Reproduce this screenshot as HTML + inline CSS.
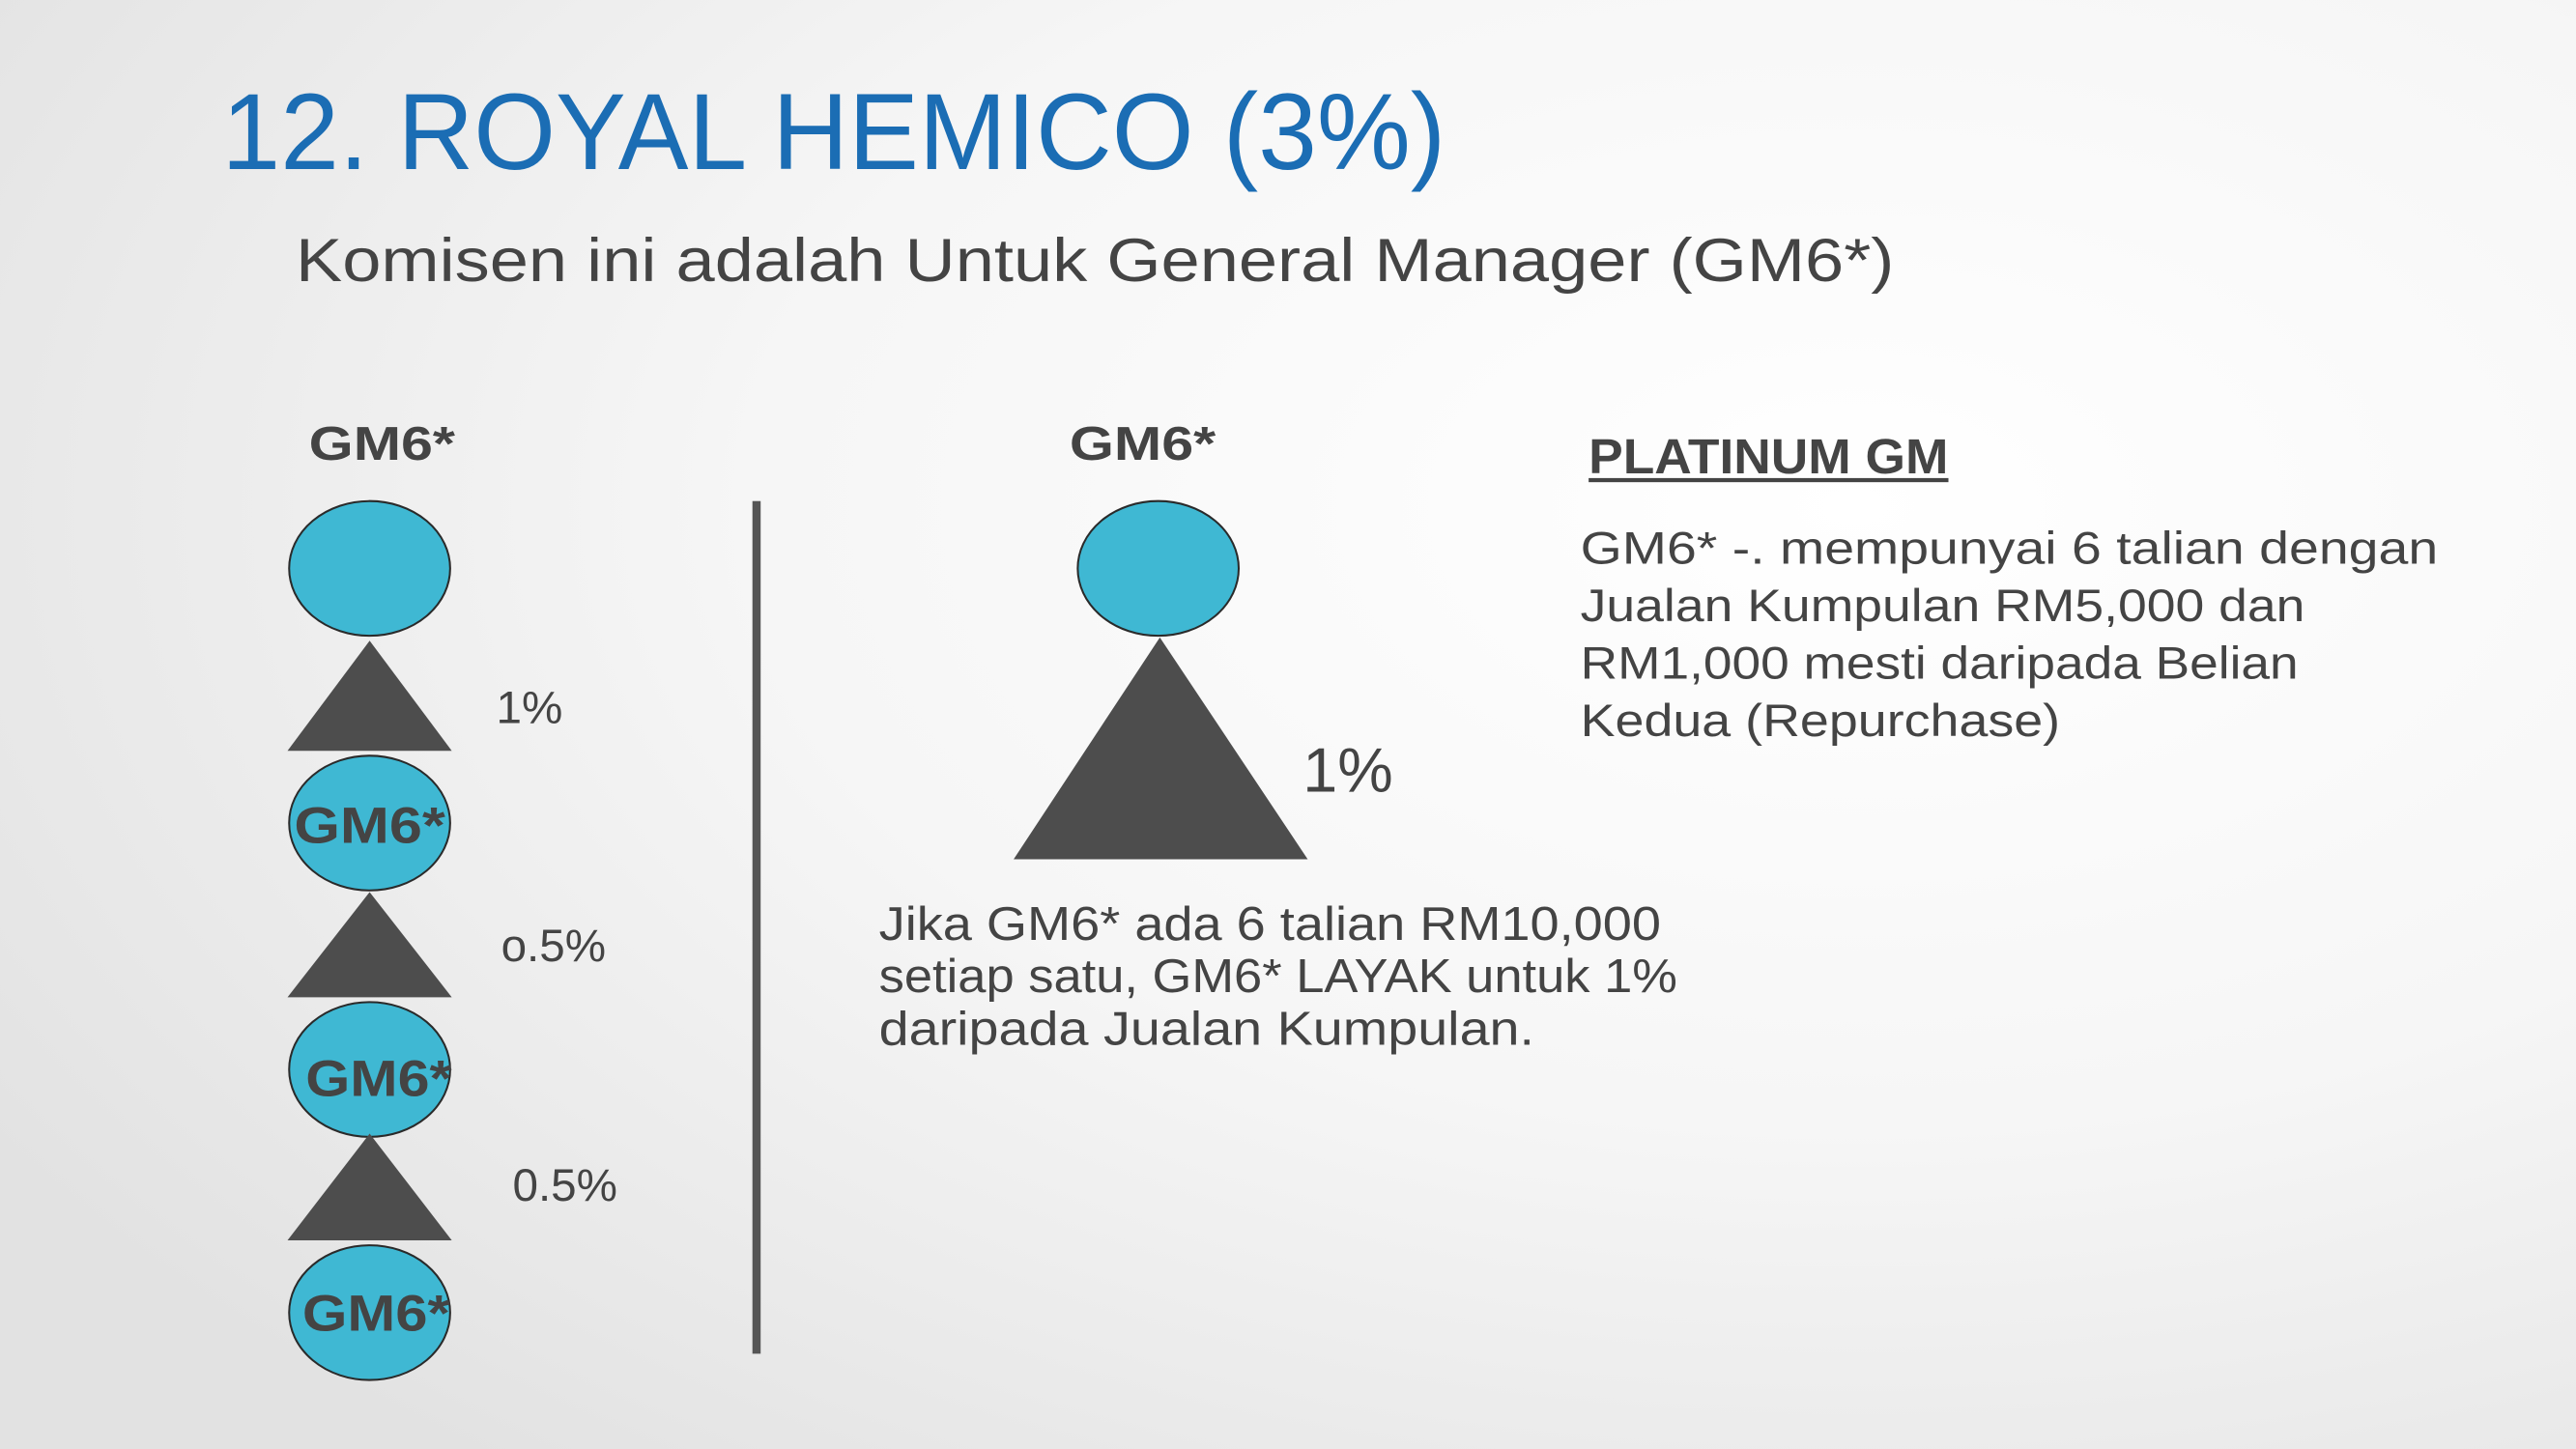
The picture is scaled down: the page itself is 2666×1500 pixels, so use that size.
<!DOCTYPE html>
<html><head><meta charset="utf-8"><style>
html,body{margin:0;padding:0;width:2666px;height:1500px;overflow:hidden}
svg{display:block}
text{font-family:"Liberation Sans",sans-serif}
</style></head><body>
<svg width="2666" height="1500" viewBox="0 0 1568 882" preserveAspectRatio="none" xmlns="http://www.w3.org/2000/svg">
<defs>
<radialGradient id="bg" cx="0.72" cy="0.35" r="0.85">
<stop offset="0" stop-color="#ffffff"/><stop offset="0.5" stop-color="#f6f6f6"/><stop offset="1" stop-color="#e2e2e2"/>
</radialGradient>
</defs>
<rect x="0" y="0" width="1568" height="882" fill="url(#bg)"/>
<text x="135" y="103" font-size="66" fill="#1b6db4" textLength="745" lengthAdjust="spacingAndGlyphs">12. ROYAL HEMICO (3%)</text>
<text x="180" y="171" font-size="37" fill="#444" textLength="973" lengthAdjust="spacingAndGlyphs">Komisen ini adalah Untuk General Manager (GM6*)</text>

<g>
<text x="188" y="280" font-size="29" font-weight="bold" fill="#444" textLength="89" lengthAdjust="spacingAndGlyphs">GM6*</text>
<ellipse cx="225" cy="346" rx="49" ry="41" fill="#3fb8d3" stroke="#2a2a2a" stroke-width="1.2"/>
<polygon points="225,390 175,457 275,457" fill="#4d4d4d"/>
<text x="302" y="440" font-size="28" fill="#444">1%</text>
<ellipse cx="225" cy="501" rx="49" ry="41" fill="#3fb8d3" stroke="#2a2a2a" stroke-width="1.2"/>
<text x="179" y="513" font-size="31" font-weight="bold" fill="#444" textLength="92" lengthAdjust="spacingAndGlyphs">GM6*</text>
<polygon points="225,543 175,607 275,607" fill="#4d4d4d"/>
<text x="305" y="585" font-size="28" fill="#444">o.5%</text>
<ellipse cx="225" cy="651" rx="49" ry="41" fill="#3fb8d3" stroke="#2a2a2a" stroke-width="1.2"/>
<text x="186" y="667" font-size="31" font-weight="bold" fill="#444" textLength="89" lengthAdjust="spacingAndGlyphs">GM6*</text>
<polygon points="225,690 175,755 275,755" fill="#4d4d4d"/>
<text x="312" y="731" font-size="28" fill="#444">0.5%</text>
<ellipse cx="225" cy="799" rx="49" ry="41" fill="#3fb8d3" stroke="#2a2a2a" stroke-width="1.2"/>
<text x="184" y="810" font-size="31" font-weight="bold" fill="#444" textLength="90" lengthAdjust="spacingAndGlyphs">GM6*</text>
</g>

<rect x="458" y="305" width="5" height="519" fill="#555"/>

<g>
<text x="651" y="280" font-size="29" font-weight="bold" fill="#444" textLength="89" lengthAdjust="spacingAndGlyphs">GM6*</text>
<ellipse cx="705" cy="346" rx="49" ry="41" fill="#3fb8d3" stroke="#2a2a2a" stroke-width="1.2"/>
<polygon points="706,388 617,523 796,523" fill="#4d4d4d"/>
<text x="793" y="482" font-size="38" fill="#444">1%</text>
<text x="535" y="572" font-size="29" fill="#444" textLength="476" lengthAdjust="spacingAndGlyphs">Jika GM6* ada 6 talian  RM10,000</text>
<text x="535" y="604" font-size="29" fill="#444" textLength="486" lengthAdjust="spacingAndGlyphs">setiap satu, GM6* LAYAK untuk 1%</text>
<text x="535" y="636" font-size="29" fill="#444" textLength="399" lengthAdjust="spacingAndGlyphs">daripada Jualan Kumpulan.</text>
</g>

<g>
<text x="967" y="288" font-size="30" font-weight="bold" fill="#444" textLength="219" lengthAdjust="spacingAndGlyphs">PLATINUM GM</text>
<rect x="967" y="291" width="219" height="2.5" fill="#444"/>
<text x="962" y="343" font-size="28" fill="#444" textLength="522" lengthAdjust="spacingAndGlyphs">GM6* -. mempunyai 6 talian dengan</text>
<text x="962" y="378" font-size="28" fill="#444" textLength="441" lengthAdjust="spacingAndGlyphs">Jualan Kumpulan RM5,000 dan</text>
<text x="962" y="413" font-size="28" fill="#444" textLength="437" lengthAdjust="spacingAndGlyphs">RM1,000 mesti daripada Belian</text>
<text x="962" y="448" font-size="28" fill="#444" textLength="292" lengthAdjust="spacingAndGlyphs">Kedua (Repurchase)</text>
</g>
</svg>
</body></html>
